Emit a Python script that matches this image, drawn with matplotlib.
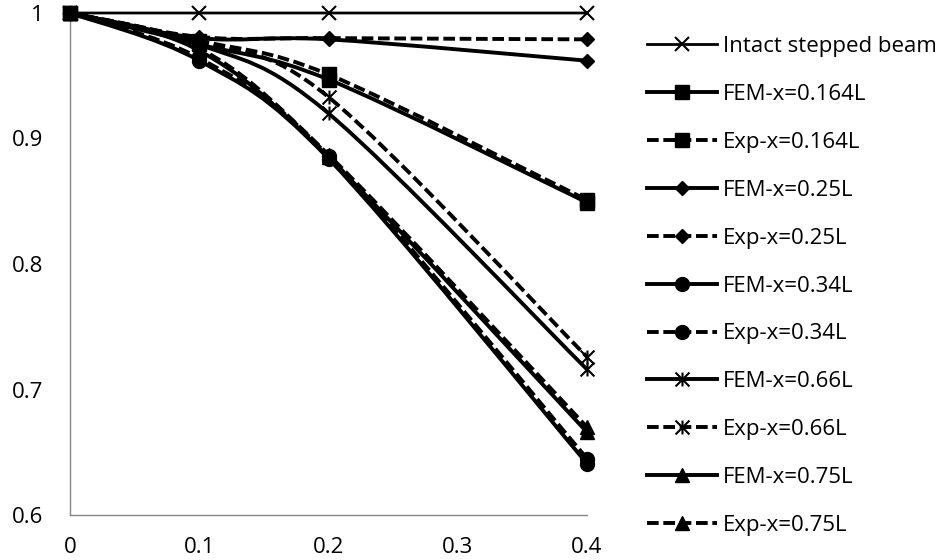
import matplotlib
matplotlib.use('Agg')
import matplotlib.pyplot as plt
import numpy as np
from matplotlib.path import Path
from matplotlib.patches import PathPatch
from matplotlib.lines import Line2D
from matplotlib.ticker import FuncFormatter

plt.rcParams['font.family'] = ['Open Sans', 'DejaVu Sans']
plt.rcParams['font.size'] = 16

# crack depth ratio on the x axis
crack_depth = [0, 0.1, 0.2, 0.4]

# frequency ratio for each case
intact = [1, 1, 1, 1]
fem_164 = [1, 0.975, 0.947, 0.849]
exp_164 = [1, 0.978, 0.951, 0.851]
fem_25 = [1, 0.980, 0.979, 0.962]
exp_25 = [1, 0.981, 0.980, 0.979]
fem_34 = [1, 0.962, 0.884, 0.641]
exp_34 = [1, 0.964, 0.886, 0.645]
fem_66 = [1, 0.975, 0.920, 0.716]
exp_66 = [1, 0.977, 0.933, 0.726]
fem_75 = [1, 0.970, 0.885, 0.666]
exp_75 = [1, 0.972, 0.887, 0.670]

labels = ['Intact stepped beam', 'FEM-x=0.164L', 'Exp-x=0.164L', 'FEM-x=0.25L',
          'Exp-x=0.25L', 'FEM-x=0.34L', 'Exp-x=0.34L', 'FEM-x=0.66L',
          'Exp-x=0.66L', 'FEM-x=0.75L', 'Exp-x=0.75L']

# asterisk marker like the spreadsheet one (x with a vertical bar)
M, L = Path.MOVETO, Path.LINETO
star = Path([(-1, -1), (1, 1), (-1, 1), (1, -1), (0, -1), (0, 1)],
            [M, L, M, L, M, L])

dash = (0, (3.0, 1.2))
series = [
    (intact, '-', 'x', 10, 2.0),
    (fem_164, '-', 's', 9.5, 2.8),
    (exp_164, dash, 's', 9.5, 2.8),
    (fem_25, '-', 'D', 7, 2.8),
    (exp_25, dash, 'D', 7, 2.8),
    (fem_34, '-', 'o', 10, 2.8),
    (exp_34, dash, 'o', 10, 2.8),
    (fem_66, '-', star, 10, 2.8),
    (exp_66, dash, star, 10, 2.8),
    (fem_75, '-', '^', 10, 2.8),
    (exp_75, dash, '^', 10, 2.8),
]


def smooth_path(x, y):
    # smoothed line: Catmull-Rom segments written as cubic Bezier curves
    pts = np.column_stack([x, y]).astype(float)
    n = len(pts)
    verts = [pts[0]]
    codes = [Path.MOVETO]
    for i in range(n - 1):
        p0 = pts[i - 1] if i > 0 else pts[i]
        p1 = pts[i]
        p2 = pts[i + 1]
        p3 = pts[i + 2] if i + 2 < n else pts[i + 1]
        verts += [p1 + (p2 - p0) / 6, p2 - (p3 - p1) / 6, p2]
        codes += [Path.CURVE4] * 3
    return Path(verts, codes)


fig = plt.figure(figsize=(9.5, 5.6), dpi=100)
ax = fig.add_axes([70 / 950, 1 - 515 / 560, 517 / 950, 502 / 560])

handles = []
for (vals, ls, mk, ms, lw), lab in zip(series, labels):
    patch = PathPatch(smooth_path(crack_depth, vals), fill=False, edgecolor='black',
                      lw=lw, linestyle=ls, capstyle='butt', joinstyle='round',
                      clip_on=False, zorder=2)
    ax.add_patch(patch)
    unfilled = mk == 'x' or isinstance(mk, Path)
    ax.plot(crack_depth, vals, linestyle='none', marker=mk, ms=ms, color='black',
            mfc='none' if unfilled else 'black', mew=1.5 if unfilled else 1,
            clip_on=False, zorder=3)
    handles.append(Line2D([], [], color='black', lw=lw, linestyle=ls, marker=mk, ms=ms,
                          mfc='none' if unfilled else 'black',
                          mew=1.5 if unfilled else 1, label=lab))

ax.set_xlim(0, 0.4)
ax.set_ylim(0.6, 1)
ax.set_xticks([0, 0.1, 0.2, 0.3, 0.4])
ax.set_yticks([0.6, 0.7, 0.8, 0.9, 1])
fmt = FuncFormatter(lambda v, p: f'{v:g}')
ax.xaxis.set_major_formatter(fmt)
ax.yaxis.set_major_formatter(fmt)
ax.tick_params(axis='both', length=0)
ax.tick_params(axis='y', pad=19)
ax.tick_params(axis='x', pad=16)
for s in ['top', 'right']:
    ax.spines[s].set_visible(False)
for s in ['left', 'bottom']:
    ax.spines[s].set_color('#868686')
    ax.spines[s].set_linewidth(1)

fig.legend(handles=handles, loc='center left', bbox_to_anchor=(647 / 950, 1 - 286 / 560),
           frameon=False, borderpad=0, borderaxespad=0, handlelength=3.15,
           handletextpad=0.25, labelspacing=1.21, numpoints=1)

fig.savefig('out.png', dpi=100)
